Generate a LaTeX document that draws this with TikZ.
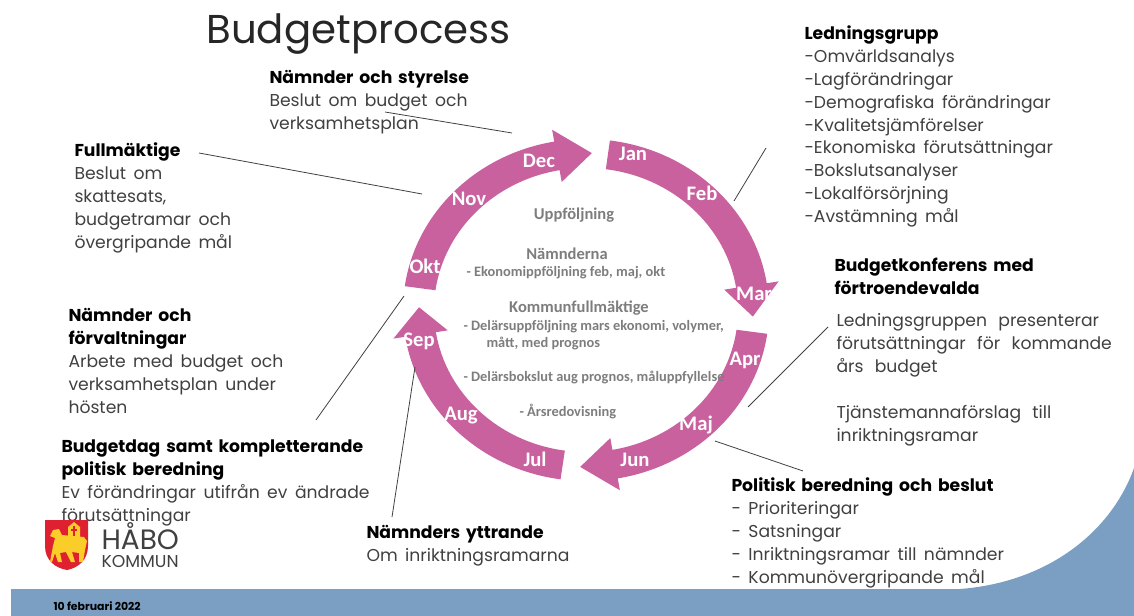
\documentclass[tikz,border=0pt]{standalone}
\usepackage{fontspec}
\setmainfont{Poppins}
\newfontfamily\carlitofont{Carlito}
\definecolor{ringpink}{RGB}{201,97,159}
\definecolor{bandblue}{RGB}{123,158,195}
\definecolor{bodygray}{RGB}{64,64,64}
\definecolor{followgray}{RGB}{125,125,125}
\definecolor{shieldred}{RGB}{222,32,48}
\definecolor{lambyellow}{RGB}{250,205,40}
\tikzset{every picture/.style={line width=0.75pt}}
\tikzset{
  blocktext/.style={anchor=north west,align=left,inner sep=0pt,text=bodygray,font={\fontsize{12.9}{17.2}\selectfont\spaceskip 5.6pt\relax}},
  widetext/.style={blocktext,font={\fontsize{12.9}{17.2}\selectfont\spaceskip 8.5pt\relax}},
  monthtext/.style={inner sep=0pt,text=white,font=\carlitofont\bfseries\fontsize{15.5}{17}\selectfont},
  followtext/.style={inner sep=0pt,text=followgray,font=\carlitofont\bfseries\fontsize{12.4}{14}\selectfont},
  followlist/.style={followtext,anchor=west,align=left,font=\carlitofont\bfseries\fontsize{10.8}{12.6}\selectfont},
  leader/.style={draw=bodygray,line width=0.6pt},
  ringarrow/.style={fill=ringpink,draw=none},
}
\newcommand{\head}[1]{{\color{black}\bfseries\spaceskip 4.4pt\relax #1}}

\begin{document}
\begin{tikzpicture}[x=0.75pt,y=0.75pt,yscale=-1,xscale=1]
	\useasboundingbox (0,0) rectangle (1134,616);

	%Shape: Band
	\fill [bandblue] (11,589) -- (960,589) .. controls (1050,582) and (1112,530) .. (1134,468) -- (1134,616) -- (11,616) -- cycle ;

	%Shape: Ring
	\begin{scope}[shift={(586,310)}]
	\fill [ringarrow] (-82.5:183 and 171) arc[start angle=-82.5,end angle=-9,x radius=183,y radius=171] -- (-9:195 and 183) -- (2.4:167 and 157) -- (-9:140 and 130) -- (-9:152 and 142) arc[start angle=-9,end angle=-82.5,x radius=152,y radius=142] -- cycle ;
	\fill [ringarrow] (8:183 and 171) arc[start angle=8,end angle=80,x radius=183,y radius=171] -- (80:195 and 183) -- (92:167 and 157) -- (80:140 and 130) -- (80:152 and 142) arc[start angle=80,end angle=8,x radius=152,y radius=142] -- cycle ;
	\fill [ringarrow] (98:183 and 171) arc[start angle=98,end angle=171,x radius=183,y radius=171] -- (171:195 and 183) -- (181:167 and 157) -- (171:140 and 130) -- (171:152 and 142) arc[start angle=171,end angle=98,x radius=152,y radius=142] -- cycle ;
	\fill [ringarrow] (188:183 and 171) arc[start angle=188,end angle=260,x radius=183,y radius=171] -- (260:195 and 183) -- (272:167 and 157) -- (260:140 and 130) -- (260:152 and 142) arc[start angle=260,end angle=188,x radius=152,y radius=142] -- cycle ;
	\end{scope}

	%Straight Lines
	\coordinate (styrelseA) at (385,112);
	\coordinate (styrelseB) at (512,133);
	\draw [leader] (styrelseA) -- (styrelseB) ;
	\coordinate (fullmaktigeA) at (199,153);
	\coordinate (fullmaktigeB) at (422,194);
	\draw [leader] (fullmaktigeA) -- (fullmaktigeB) ;
	\coordinate (ledningA) at (766,148);
	\coordinate (ledningB) at (734,201);
	\draw [leader] (ledningA) -- (ledningB) ;
	\coordinate (konferensA) at (828,327);
	\coordinate (konferensB) at (748,407);
	\draw [leader] (konferensA) -- (konferensB) ;
	\coordinate (beredningA) at (715,441);
	\coordinate (beredningB) at (803,471);
	\draw [leader] (beredningA) -- (beredningB) ;
	\coordinate (forvaltningA) at (404,296);
	\coordinate (forvaltningB) at (316,420);
	\draw [leader] (forvaltningA) -- (forvaltningB) ;
	\coordinate (yttrandeA) at (415,367);
	\coordinate (yttrandeB) at (392,517);
	\draw [leader] (yttrandeA) -- (yttrandeB) ;

	% Text Node
	\node (title) [anchor=west,inner sep=0pt,font=\fontsize{30.2}{33}\selectfont,text=black!85] at (206,34) {Budgetprocess};
	% Text Node
	\node (styrelse) [blocktext] at (269,70) {\head{Nämnder och styrelse}\\Beslut om budget och\\verksamhetsplan};
	% Text Node
	\node (fullmaktige) [blocktext] at (74,142) {\head{Fullmäktige}\\Beslut om\\skattesats,\\budgetramar och\\övergripande mål};
	% Text Node
	\node (forvaltning) [blocktext] at (68,308) {\head{Nämnder och}\\\head{förvaltningar}\\Arbete med budget och\\verksamhetsplan under\\hösten};
	% Text Node
	\node (budgetdag) [blocktext] at (61,439) {\head{Budgetdag samt kompletterande}\\\head{politisk beredning}\\Ev förändringar utifrån ev ändrade\\förutsättningar};
	% Text Node
	\node (yttrande) [blocktext] at (366,525) {\head{Nämnders yttrande}\\Om inriktningsramarna};
	% Text Node
	\node (ledning) [blocktext] at (804,25) {\head{Ledningsgrupp}\\-Omvärldsanalys\\-Lagförändringar\\-Demografiska förändringar\\-Kvalitetsjämförelser\\-Ekonomiska förutsättningar\\-Bokslutsanalyser\\-Lokalförsörjning\\-Avstämning mål};
	% Text Node
	\node (konferens) [blocktext] at (834,258) {\head{Budgetkonferens med}\\\head{förtroendevalda}};
	% Text Node
	\node (presentation) [widetext] at (836,313) {Ledningsgruppen presenterar\\förutsättningar för kommande\\års budget\\[17.2pt]Tjänstemannaförslag till\\inriktningsramar};
	% Text Node
	\node (beredning) [blocktext] at (731,477) {\head{Politisk beredning och beslut}\\- Prioriteringar\\- Satsningar\\- Inriktningsramar till nämnder\\- Kommunövergripande mål};

	% Text Node
	\node (jan) [monthtext] at (633,154) {Jan};
	\node (feb) [monthtext] at (702,193) {Feb};
	\node (mars) [monthtext] at (758,294) {Mars};
	\node (apr) [monthtext] at (745,360) {Apr};
	\node (maj) [monthtext] at (696,425) {Maj};
	\node (jun) [monthtext] at (635,460) {Jun};
	\node (jul) [monthtext] at (535,459) {Jul};
	\node (aug) [monthtext] at (461,416) {Aug};
	\node (sep) [monthtext] at (419,341) {Sep};
	\node (okt) [monthtext] at (425,266) {Okt};
	\node (nov) [monthtext] at (469,199) {Nov};
	\node (dec) [monthtext] at (539,161) {Dec};

	% Text Node
	\node (uppfoljning) [followtext] at (574,215) {Uppföljning};
	\node (namnderna) [followtext] at (567,254) {Nämnderna};
	\node (ekonomi) [followlist] at (466,273) {- Ekonomippföljning feb, maj, okt};
	\node (kommun) [followtext] at (579,308) {Kommunfullmäktige};
	\node (delars) [followlist] at (463,327) {- Delärsuppföljning mars ekonomi, volymer,};
	\node (matt) [followlist] at (486,344) {mått, med prognos};
	\node (bokslut) [followlist] at (463,378) {- Delärsbokslut aug prognos, måluppfyllelse};
	\node (arsredo) [followlist] at (519,412) {- Årsredovisning};

	%Shape: Shield
	\fill [shieldred] (45,520) -- (88,520) -- (88,546) .. controls (88,560) and (78,568) .. (67,570) .. controls (55,568) and (45,560) .. (45,546) -- cycle ;
	%Shape: Lamb
	\fill [lambyellow] (50,536) -- (53,530) -- (59,529) -- (62,535) -- (84,537) -- (87,541) -- (85,550) -- (83,562) -- (79,562) -- (79,553) -- (72,552) -- (75,562) -- (71,562) -- (66,552) -- (60,553) -- (62,562) -- (58,562) -- (55,553) -- (52,562) -- (50,562) -- (53,546) -- (55,538) -- cycle ;
	%Shape: Banner
	\fill [lambyellow] (68,527) -- (74,522) -- (80,527) -- (80,538) -- (68,538) -- cycle ;
	\draw [shieldred,line width=1pt] (74,526) -- (74,536) (71,530) -- (77,530) ;

	% Text Node
	\node (habo) [anchor=base west,inner sep=0pt,text height=14pt,text depth=0pt,text=bodygray,font=\fontsize{21}{22}\selectfont] at (101,549) {HÅBO};
	\node (kommunlogo) [anchor=base west,inner sep=0pt,text height=8pt,text depth=0pt,text=bodygray,font=\fontsize{12.9}{14}\selectfont] at (101,567) {KOMMUN};
	% Text Node
	\node (datum) [anchor=west,inner sep=0pt,text=black,font=\bfseries\fontsize{8.2}{9}\selectfont] at (53,606) {10 februari 2022};

\end{tikzpicture}
\end{document}
